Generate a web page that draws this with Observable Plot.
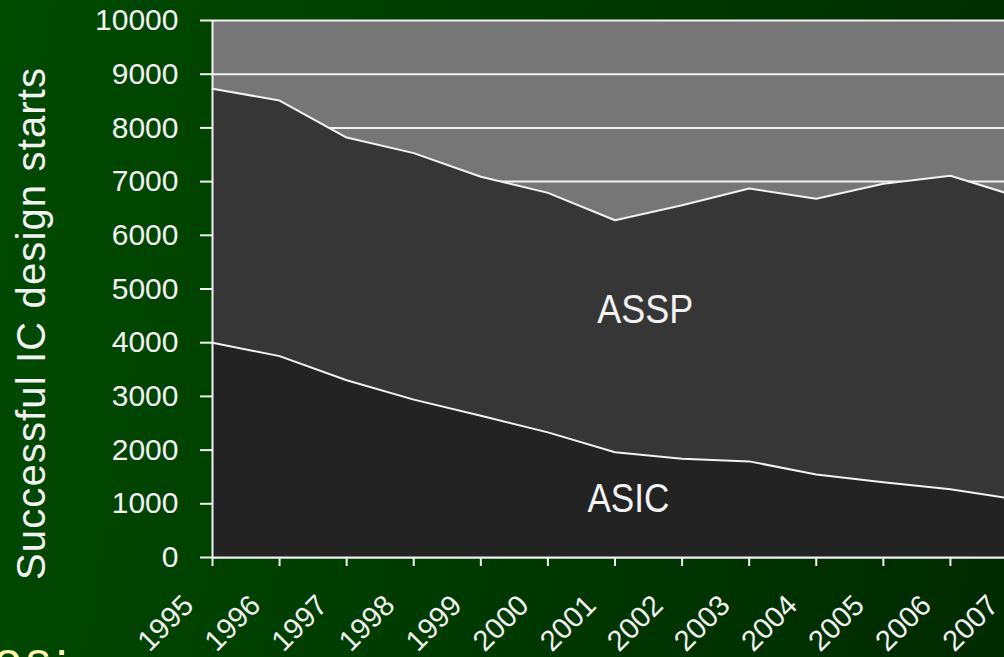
<!DOCTYPE html>
<html>
<head>
<meta charset="utf-8">
<script src="https://cdn.jsdelivr.net/npm/d3@7"></script>
<script src="https://cdn.jsdelivr.net/npm/@observablehq/plot@0.6"></script>
<style>
  html, body { margin: 0; padding: 0; width: 1004px; height: 657px; overflow: hidden; }
  body {
    background: linear-gradient(100deg, #004a00 0%, #003c00 45%, #002a00 100%);
    font-family: "Liberation Sans", Arial, sans-serif;
    position: relative;
  }
  #chart { position: absolute; left: 0; top: 0; }
  #note {
    position: absolute; left: -6px; top: 635px;
    font-size: 50px; color: #ffffa8; letter-spacing: 4px;
    font-family: "Liberation Sans", Arial, sans-serif; line-height: 1;
  }
</style>
</head>
<body>
<div id="chart"></div>
<div id="note">os:</div>
<script>
// Successful IC design starts per year, split into ASIC and ASSP
const years = [1995, 1996, 1997, 1998, 1999, 2000, 2001, 2002, 2003, 2004, 2005, 2006, 2007];
const asicStarts = [4000, 3750, 3300, 2940, 2640, 2330, 1960, 1840, 1790, 1545, 1400, 1270, 1080];
const asspStarts = [4730, 4760, 4520, 4590, 4450, 4460, 4320, 4720, 5080, 5135, 5560, 5840, 5640];
const seriesNames = ["ASIC", "ASSP"];
const yTicks = [0, 1000, 2000, 3000, 4000, 5000, 6000, 7000, 8000, 9000, 10000];
const yTitle = "Successful IC design starts";

// Where the series names sit inside their bands (year, design starts)
const seriesLabelYear = [2001.2, 2001.45];
const seriesLabelValue = [1080, 4600];

// Long table for stacking: ASIC first, ASSP on top
const rows = [];
seriesNames.forEach((name, s) => {
  const values = s === 0 ? asicStarts : asspStarts;
  years.forEach((year, i) => rows.push({series: name, year, value: values[i]}));
});
const labels = seriesNames.map((name, i) => ({name, year: seriesLabelYear[i], value: seriesLabelValue[i]}));

const yMax = yTicks[yTicks.length - 1];
const white = "#f2f2f2";

const chart = Plot.plot({
  width: 1004,
  height: 657,
  marginLeft: 212,
  marginRight: 0,
  marginTop: 20,
  marginBottom: 100,
  style: {background: "transparent", fontFamily: "'Liberation Sans', Arial, sans-serif", overflow: "visible"},
  x: {domain: [years[0], years[years.length - 1]], range: [212, 1017], axis: null},
  y: {domain: [0, yMax], range: [557, 20], axis: null},
  color: {domain: seriesNames, range: ["#232323", "#363636"]},
  marks: [
    // plot background band up to the top of the scale
    Plot.areaY(years, {x: d => d, y1: 0, y2: yMax, fill: "#767676"}),
    Plot.gridY(yTicks, {stroke: white, strokeOpacity: 1, strokeWidth: 2}),
    Plot.areaY(rows, Plot.stackY({x: "year", y: "value", z: "series", fill: "series", order: seriesNames})),
    Plot.lineY(rows, Plot.stackY2({x: "year", y: "value", z: "series", stroke: white, strokeWidth: 2, order: seriesNames})),
    Plot.ruleX([years[0]], {y1: 0, y2: yMax, stroke: white, strokeWidth: 2}),
    Plot.ruleY([0], {x1: years[0], x2: years[years.length - 1], stroke: white, strokeWidth: 2}),
    Plot.axisY({ticks: yTicks, tickSize: 12, tickPadding: 22, fontSize: 30, color: white, strokeWidth: 2, label: null, tickFormat: d => String(d)}),
    // x tick marks, then the slanted year labels
    Plot.axisX({ticks: years, tickSize: 9, color: white, strokeWidth: 2, label: null, tickFormat: () => ""}),
    Plot.axisX({ticks: years, tickSize: 0, tickRotate: -45, tickPadding: 43, dx: -24, fontSize: 29, color: white, label: null, tickFormat: d => String(d)}),
    Plot.text(labels, {x: "year", y: "value", text: "name", fill: white, fontSize: 40})
  ]
});

document.getElementById("chart").appendChild(chart);

const svg = d3.select(chart);

// Y title, rotated along the left edge
svg.append("text")
  .attr("transform", "translate(45,324) rotate(-90)")
  .attr("text-anchor", "middle")
  .attr("fill", white)
  .attr("font-size", 40)
  .attr("textLength", 512)
  .attr("lengthAdjust", "spacing")
  .text(yTitle);

// Series names are set slightly condensed
svg.selectAll("text").filter(function () { return this.textContent === "ASSP"; })
  .attr("textLength", 96).attr("lengthAdjust", "spacingAndGlyphs");
svg.selectAll("text").filter(function () { return this.textContent === "ASIC"; })
  .attr("textLength", 82).attr("lengthAdjust", "spacingAndGlyphs");
</script>
</body>
</html>
